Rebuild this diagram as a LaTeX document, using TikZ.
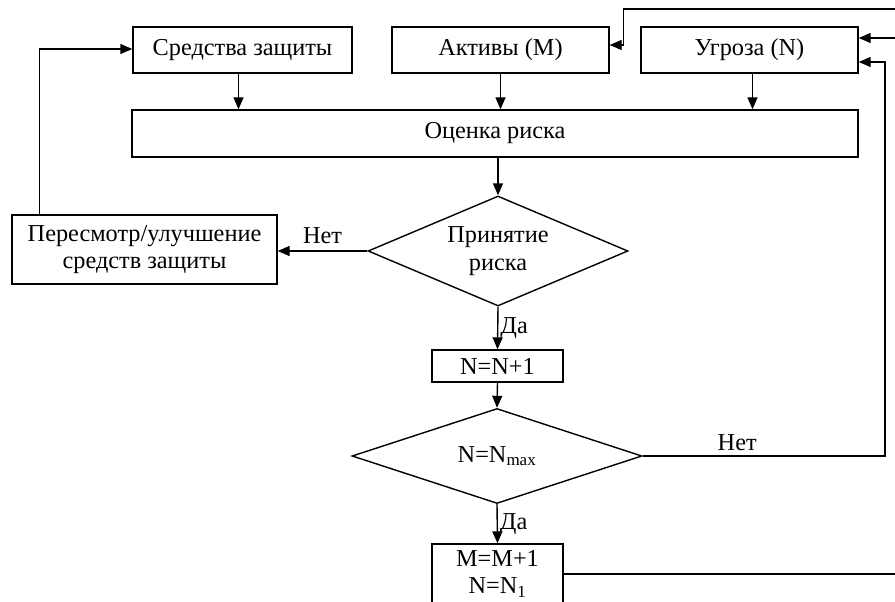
\documentclass[tikz,border=0pt]{standalone}
\usepackage{fontspec}
\setmainfont{Liberation Serif}
\usetikzlibrary{shapes.geometric,arrows.meta,calc}
\begin{document}
\begin{tikzpicture}[x=1pt,y=-1pt,
  every node/.style={font=\fontsize{24.3}{27.5}\selectfont},
  box/.style={draw,line width=1.4pt,inner sep=0pt,align=center},
  dia/.style={draw,diamond,line width=1.4pt,inner sep=0pt,align=center},
  conn/.style={line width=1.4pt},
  arr/.style={conn,-{Triangle[length=12pt,width=10pt]}},
  lbl/.style={inner sep=1pt}]
\useasboundingbox (0,0) rectangle (895,602);
\clip (0,0) rectangle (895,602);
\fill[white] (0,0) rectangle (895,602);
% nodes
\node[box,minimum width=219pt,minimum height=46pt] (sz) at (242.5,50) {Средства защиты};
\node[box,minimum width=217pt,minimum height=46pt] (akt) at (500.5,50) {Активы (M)};
\node[box,minimum width=217pt,minimum height=46pt] (ugr) at (749.5,50) {Угроза (N)};
\node[box,minimum width=726pt,minimum height=47pt] (ocen) at (495,133.5) {Оценка риска};
\node[dia,minimum width=260pt,minimum height=110pt,aspect=2.36] (d1) at (498,251) {Принятие\\риска};
\node[box,minimum width=265pt,minimum height=69pt] (per) at (144.5,249.5) {Пересмотр/улучшение\\средств защиты};
\node[box,minimum width=131pt,minimum height=32pt] (n1) at (497.5,366) {N=N+1};
\node[dia,minimum width=290pt,minimum height=95pt,aspect=3.05] (d2) at (497,456) {N=N\textsubscript{max}};
\node[box,minimum width=131pt,minimum height=60pt] (m1) at (497.5,574) {M=M+1\\N=N\textsubscript{1}};
% helper coordinates
\coordinate (szs) at ($(sz.south)+(-4,0)$);
\coordinate (ugs) at ($(ugr.south)+(3,0)$);
\coordinate (pern) at ($(per.north west)+(28,0)$);
\coordinate (szw) at ($(sz.west)+(0,-1)$);
\coordinate (ugA) at ($(ugr.east)+(0,12)$);
\coordinate (ugB) at ($(ugr.east)+(0,-12)$);
\coordinate (aktE) at ($(akt.east)+(0,-5)$);
\coordinate (aktC) at ($(akt.east)+(14,-5)$);
% free ends beyond the right edge
\coordinate (eTop) at (910,9);
\coordinate (eMid) at (910,38);
\coordinate (eBot) at (910,574);
\coordinate (rx) at (885,0);
% connectors
\draw[arr] (szs) -- (szs |- ocen.north);
\draw[arr] (akt.south) -- (akt.south |- ocen.north);
\draw[arr] (ugs) -- (ugs |- ocen.north);
\draw[arr] (d1.north |- ocen.south) -- (d1.north);
\draw[arr] (d1.west) -- (d1.west -| per.east) node[lbl,midway,above,yshift=6pt] {Нет};
\draw[arr] (pern) |- (szw);
\draw[arr] (d1.south) -- (n1.north) node[lbl,midway,right,xshift=1pt] {Да};
\draw[arr] (n1.south) -- (d2.north);
\draw[arr] (d2.east) -- (d2.east -| rx) node[lbl,pos=0.39,above,yshift=4pt] {Нет} |- (ugA);
\draw[arr] (eMid) -- (ugB);
\draw[arr] (eTop) -| (aktC) -- (aktE);
\draw[arr] (d2.south) -- (m1.north) node[lbl,midway,right,xshift=1pt] {Да};
\draw[conn] (m1.east) -- (eBot);
\end{tikzpicture}
\end{document}
